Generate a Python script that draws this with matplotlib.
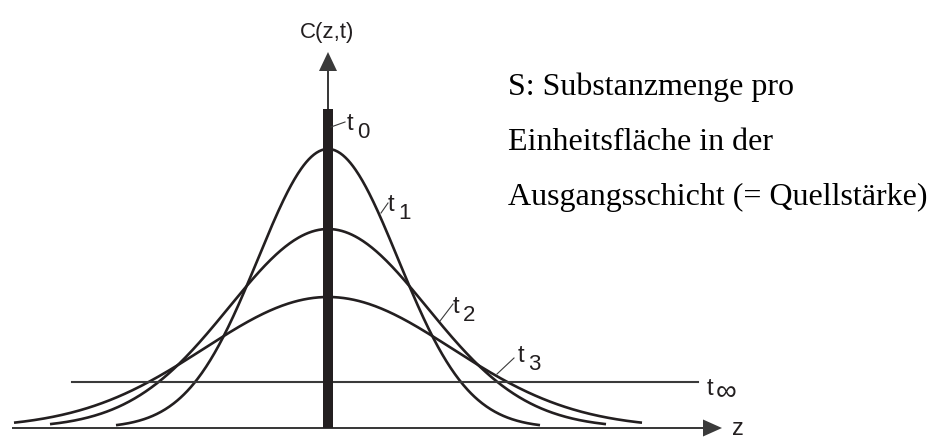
import numpy as np
import matplotlib.pyplot as plt

plt.rcParams['font.family'] = ['Liberation Sans', 'DejaVu Sans']

# Concentration profiles C(z,t) spreading out of the source layer
profile_labels = ['1', '2', '3']
peak_heights = [279, 199, 131]
spreads = [70, 99, 124]
extents = [212, 278, 314]

# t0: everything still sits in the source layer
source_height = 319
source_width = 10

# t_inf: flat profile
final_level = 46
final_span = (-256, 370)

# label anchors (left edge of "t", baseline) and leader lines
label_ids = ['0', '1', '2', '3']
label_pos = [(19, 299), (60, 218), (125, 116), (190, 67)]
leaders = [((3, 301), (17, 306)), ((53, 215), (60, 225)),
           ((112, 107), (125, 124)), ((169, 54), (186, 70))]

note_lines = ['S: Substanzmenge pro',
              'Einheitsfläche in der',
              'Ausgangsschicht (= Quellstärke)']

ink = '#231f20'
axis_ink = '#3a3a3a'

fig = plt.figure(figsize=(9.33, 4.39), dpi=100)
ax = fig.add_axes([0, 0, 1, 1])
ax.set_xlim(-328, 605)
ax.set_ylim(-10, 429)
ax.axis('off')

# diffusion curves
for h, s, ext in zip(peak_heights, spreads, extents):
    z = np.linspace(-ext, ext, 500)
    ax.plot(z, h * np.exp(-z**2 / (2 * s**2)), color=ink, lw=1.9,
            solid_capstyle='butt')

# equilibrium line
ax.plot(final_span, [final_level, final_level], color=axis_ink, lw=1.5)

# axes with arrow heads
ax.arrow(-316, 0, 316 + 394, 0, width=2, head_width=17, head_length=19,
         length_includes_head=True, color=axis_ink, lw=0)
ax.arrow(0, 0, 0, 376, width=2, head_width=18, head_length=19,
         length_includes_head=True, color=axis_ink, lw=0)

# source layer at t0
ax.bar(0, source_height, width=source_width, color=ink, zorder=3)

# labels t0..t3
for lid, (x, y), (p0, p1) in zip(label_ids, label_pos, leaders):
    ax.plot([p0[0], p1[0]], [p0[1], p1[1]], color=axis_ink, lw=0.8, zorder=4)
    ax.text(x, y, 't', fontsize=17, ha='left', va='baseline', color=ink)
    ax.text(x + 10, y - 8, lid, fontsize=16, ha='left', va='baseline',
            color=ink)

ax.text(379, 34, 't', fontsize=17, ha='left', va='baseline', color=ink)
ax.text(388, 29, '∞', fontsize=21, ha='left', va='baseline', color=ink)

ax.text(404, -6, 'z', fontsize=17, ha='left', va='baseline', color=ink)
ax.text(-1, 391, 'C(z,t)', fontsize=16, ha='center', va='baseline',
        color=ink)

for i, line in enumerate(note_lines):
    ax.text(180, 334 - 55 * i, line, fontsize=23, family='Liberation Serif',
            ha='left', va='baseline', color='black')

fig.savefig('out.png', dpi=100, facecolor='white')
